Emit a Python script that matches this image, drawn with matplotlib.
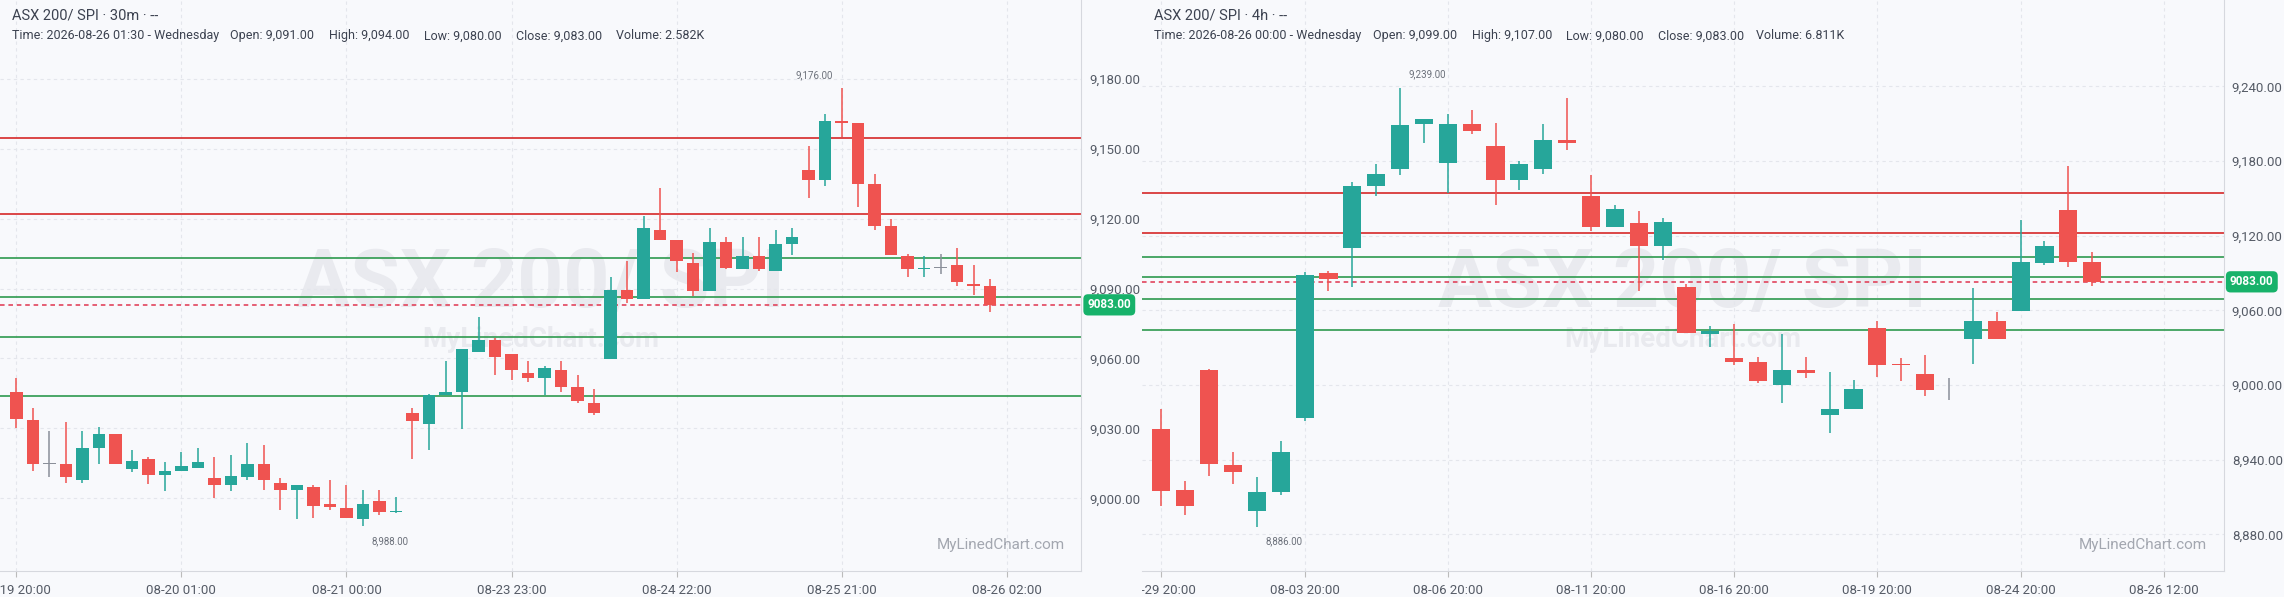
import matplotlib
matplotlib.use("Agg")
import matplotlib.pyplot as plt
from matplotlib.patches import Rectangle
import numpy as np

# ---------------- data ----------------
left_open  = [9045.6,9033.7,9014.6,9014.7,9008.0,9021.6,9027.6,9012.5,9016.8,9010.0,9011.9,9012.8,9008.7,9005.9,9009.0,9014.7,9006.4,9003.7,9005.0,8997.4,8996.0,8990.9,8998.9,8994.0,
              9036.6,9032.0,9044.4,9045.6,9062.7,9068.0,9061.9,9053.8,9051.6,9054.9,9047.9,9041.0,9059.8,9089.2,9085.3,9115.3,9110.9,9101.1,9089.0,9109.9,9098.2,9104.1,9097.5,9109.3,
              9141.0,9136.4,9161.7,9161.0,9134.9,9116.8,9104.1,9098.2,9098.7,9100.1,9092.0,9091.0]
left_close = [9034.2,9014.9,9014.6,9009.0,9021.6,9027.6,9014.9,9015.9,9010.0,9011.8,9013.9,9015.7,9005.9,9009.7,9014.7,9008.0,9003.7,9005.7,8996.9,8996.1,8991.7,8997.4,8994.0,8994.6,
              9033.0,9044.3,9045.6,9063.9,9068.0,9060.8,9054.9,9051.6,9055.9,9047.9,9041.8,9036.6,9089.2,9085.3,9116.1,9110.9,9101.8,9089.0,9109.9,9098.8,9104.1,9098.2,9109.1,9112.2,
              9136.4,9161.9,9161.2,9135.0,9117.0,9104.2,9098.2,9098.9,9098.7,9093.0,9091.3,9083.0]
left_high  = [9051.6,9038.7,9029.0,9032.8,9029.0,9030.6,9027.6,9020.8,9017.8,9015.7,9019.9,9021.5,9017.8,9018.6,9023.7,9022.9,9008.8,9005.7,9005.7,9007.7,9005.7,9003.6,9003.6,9000.7,
              9038.7,9044.8,9059.0,9063.9,9077.8,9068.8,9061.9,9059.0,9056.7,9059.0,9052.9,9046.9,9094.9,9101.8,9121.2,9133.3,9110.9,9105.2,9116.1,9112.2,9112.2,9112.2,9115.2,9116.1,
              9151.3,9165.1,9176.0,9161.0,9139.2,9119.9,9104.9,9104.1,9104.9,9107.2,9100.1,9094.0]
left_low   = [9030.0,9011.8,9009.2,9006.7,9006.7,9014.9,9014.9,9011.3,9006.0,9003.1,9011.9,9012.8,9000.0,9003.1,9008.0,9003.7,8994.9,8990.9,8991.7,8994.9,8991.7,8988.0,8993.0,8993.8,
              9017.0,9020.8,9044.4,9029.7,9062.7,9052.9,9050.8,9050.0,9044.3,9045.6,9041.0,9035.8,9059.8,9083.6,9085.3,9110.9,9097.2,9086.9,9089.0,9098.2,9098.2,9097.5,9097.5,9104.4,
              9129.0,9134.1,9155.0,9125.0,9115.3,9104.2,9095.1,9095.1,9096.2,9091.3,9087.1,9080.0]
left_ticks = [0,10,20,30,40,50,60]
left_tick_labels = ["08-19 20:00","08-20 01:00","08-21 00:00","08-23 23:00","08-24 22:00","08-25 21:00","08-26 02:00"]
left_yticks = [9000,9030,9060,9090,9120,9150,9180]

right_open  = [8964.5,8915.6,9011.9,8935.7,8899.0,8914.3,8973.7,9090.0,9110.5,9159.8,9173.3,9210.0,9178.8,9209.7,9192.2,9165.0,9173.3,9196.8,9151.8,9127.4,
               9130.1,9112.0,9079.0,9041.3,9021.8,9018.4,9000.0,9011.9,8976.2,8981.0,9046.0,9016.5,9008.9,8995.7,9037.4,9051.5,9059.4,9098.3,9140.5,9099.0]
right_close = [8915.0,8903.0,8936.7,8929.9,8914.0,8946.2,9088.8,9085.4,9159.8,9169.6,9209.1,9213.7,9209.7,9204.5,9165.0,9177.6,9196.8,9194.7,9127.4,9141.4,
               9112.0,9131.0,9041.7,9043.2,9018.4,9003.4,9011.9,9009.5,8980.7,8996.7,9016.2,9016.2,8996.4,8995.7,9051.5,9037.4,9098.9,9111.7,9098.9,9083.0]
right_high  = [8980.7,8922.9,9013.2,8946.2,8926.0,8955.0,9091.2,9091.5,9163.2,9177.6,9239.0,9213.7,9218.0,9221.0,9210.6,9180.0,9209.7,9230.8,9168.7,9144.8,
               9140.0,9134.0,9081.5,9047.2,9049.3,9022.7,9041.0,9022.4,9010.4,9004.0,9051.5,9021.8,9024.2,9005.5,9077.8,9058.5,9132.6,9116.0,9176.0,9107.0]
right_low   = [8903.0,8895.6,8927.2,8920.8,8886.0,8911.6,8971.3,9076.0,9079.0,9152.2,9168.7,9194.4,9154.0,9201.7,9145.0,9157.0,9169.9,9189.2,9123.7,9127.4,
               9076.0,9100.4,9041.7,9031.0,9016.2,9001.9,8986.0,9005.8,8961.8,8981.0,9006.5,9003.4,8991.2,8988.0,9017.2,9037.4,9059.4,9096.7,9095.2,9080.0]
right_ticks = [0,6,12,18,24,30,36,42]
right_tick_labels = ["07-29 20:00","08-03 20:00","08-06 20:00","08-11 20:00","08-16 20:00","08-19 20:00","08-24 20:00","08-26 12:00"]
right_yticks = [8880,8940,9000,9060,9120,9180,9240]

red_levels = [9154.5, 9122.0]
green_levels = [9103.0, 9086.5, 9069.0, 9044.0]
last_price = 9083.0

# ---------------- style ----------------
BG = "#f8f9fc"
UP = "#26a69a"
DN = "#ef5350"
TXT = "#3c4250"
AX = "#555b66"

fig = plt.figure(figsize=(22.84, 5.97), dpi=100, facecolor=BG)
plt.rcParams['font.family'] = ['Roboto', 'DejaVu Sans']

def panel(rect, o, c, h, l, ticks, tlabels, yticks, ylim, xlim, title, info, info_x,
          hi_idx, lo_idx, hi_text, lo_text):
    ax = fig.add_axes(rect, facecolor=BG)
    x = np.arange(len(o))
    for i in x:
        if abs(o[i] - c[i]) < 0.05:
            col = "#8a8f99"
        else:
            col = UP if c[i] > o[i] else DN
        ax.vlines(i, l[i], h[i], color=col, lw=1.1, zorder=3)
        bot = min(o[i], c[i]); ht = max(abs(c[i] - o[i]), 0.7)
        ax.bar(i, ht, bottom=bot, width=0.76, color=col, zorder=4, linewidth=0)
    for lv in red_levels:
        ax.axhline(lv, color="#d62728", lw=1.2, zorder=2)
    for lv in green_levels:
        ax.axhline(lv, color="#2e9a4e", lw=1.2, zorder=2)
    ax.axhline(last_price, color="#e0354f", lw=1.1, ls=(0, (3, 2.5)), zorder=2)
    ax.set_xlim(*xlim); ax.set_ylim(*ylim)
    ax.set_xticks(ticks); ax.set_xticklabels(tlabels, fontsize=9.5, color=AX)
    ax.set_yticks(yticks)
    ax.set_yticklabels([f"{v:,.2f}" for v in yticks], fontsize=9.5, color=AX)
    ax.yaxis.tick_right()
    ax.tick_params(axis='both', length=0, pad=6)
    ax.tick_params(axis='x', length=4, color="#bbbbbb", pad=5)
    ax.grid(True, color="#e4e6ec", lw=0.8, ls=(0, (3, 3)), zorder=0)
    for s in ["top", "left"]:
        ax.spines[s].set_visible(False)
    for s in ["bottom", "right"]:
        ax.spines[s].set_color("#d6d8de")
    ax.text(0.5, 0.5, "ASX 200/ SPI", transform=ax.transAxes, ha="center", va="center",
            fontsize=58, fontweight="bold", color="#e9eaef", zorder=1)
    ax.text(0.5, 0.405, "MyLinedChart.com", transform=ax.transAxes, ha="center", va="center",
            fontsize=20, fontweight="bold", color="#e9eaef", zorder=1)
    ax.text(0.985, 0.045, "MyLinedChart.com", transform=ax.transAxes, ha="right", va="center",
            fontsize=11, color="#a3a7b0", zorder=6)
    ax.text(0.011, 0.972, title, transform=ax.transAxes, ha="left",
            va="center", fontsize=10.5, color=TXT, zorder=6)
    for txt, xx in zip(info, info_x):
        ax.text(xx, 0.937, txt, transform=ax.transAxes, ha="left", va="center",
                fontsize=9, color=TXT, zorder=6)
    ax.annotate(hi_text, (hi_idx, h[hi_idx]), xytext=(-6 if hi_idx > 40 else 6, 6),
                textcoords="offset points", ha="right" if hi_idx > 40 else "left",
                va="bottom", fontsize=7, color="#6b707a")
    ax.annotate(lo_text, (lo_idx, l[lo_idx]), xytext=(6, -7), textcoords="offset points",
                ha="left", va="top", fontsize=7, color="#6b707a")
    ax.text(1.006, last_price, f"{last_price:.2f}", transform=ax.get_yaxis_transform(),
            ha="left", va="center", fontsize=8.5, fontweight="bold", color="white",
            bbox=dict(boxstyle="round,pad=0.35,rounding_size=0.4", fc="#17b26a", ec="none"), zorder=7)
    return ax

b = 1 - 571 / 597
hgt = 571 / 597
panel([0, b, 1081 / 2284, hgt], left_open, left_close, left_high, left_low,
      left_ticks, left_tick_labels, left_yticks, (8968.8, 9213.8), (-0.99, 64.5),
      "ASX 200/ SPI · 30m · --",
      ["Time: 2026-08-26 01:30 - Wednesday", "Open: 9,091.00", "High: 9,094.00",
       "Low: 9,080.00", "Close: 9,083.00", "Volume: 2.582K"],
      [0.011, 0.213, 0.304, 0.392, 0.477, 0.570],
      50, 21, "9,176.00", "8,988.00")

x0 = 1141.6 / 2284
w2 = (2223.5 - 1141.6) / 2284
ax2 = panel([x0, b, w2, hgt], right_open, right_close, right_high, right_low,
      right_ticks, right_tick_labels, right_yticks, (8850.6, 9309.5), (-0.83, 44.5),
      "ASX 200/ SPI · 4h · --",
      ["Time: 2026-08-26 00:00 - Wednesday", "Open: 9,099.00", "High: 9,107.00",
       "Low: 9,080.00", "Close: 9,083.00", "Volume: 6.811K"],
      [0.011, 0.214, 0.305, 0.392, 0.477, 0.568],
      10, 4, "9,239.00", "8,886.00")

clip = Rectangle((x0, 0), 1 - x0, 1, transform=fig.transFigure, visible=False)
fig.add_artist(clip)
for lab in ax2.get_xticklabels():
    lab.set_clip_path(clip)

fig.savefig("out.png", dpi=100, facecolor=BG)
